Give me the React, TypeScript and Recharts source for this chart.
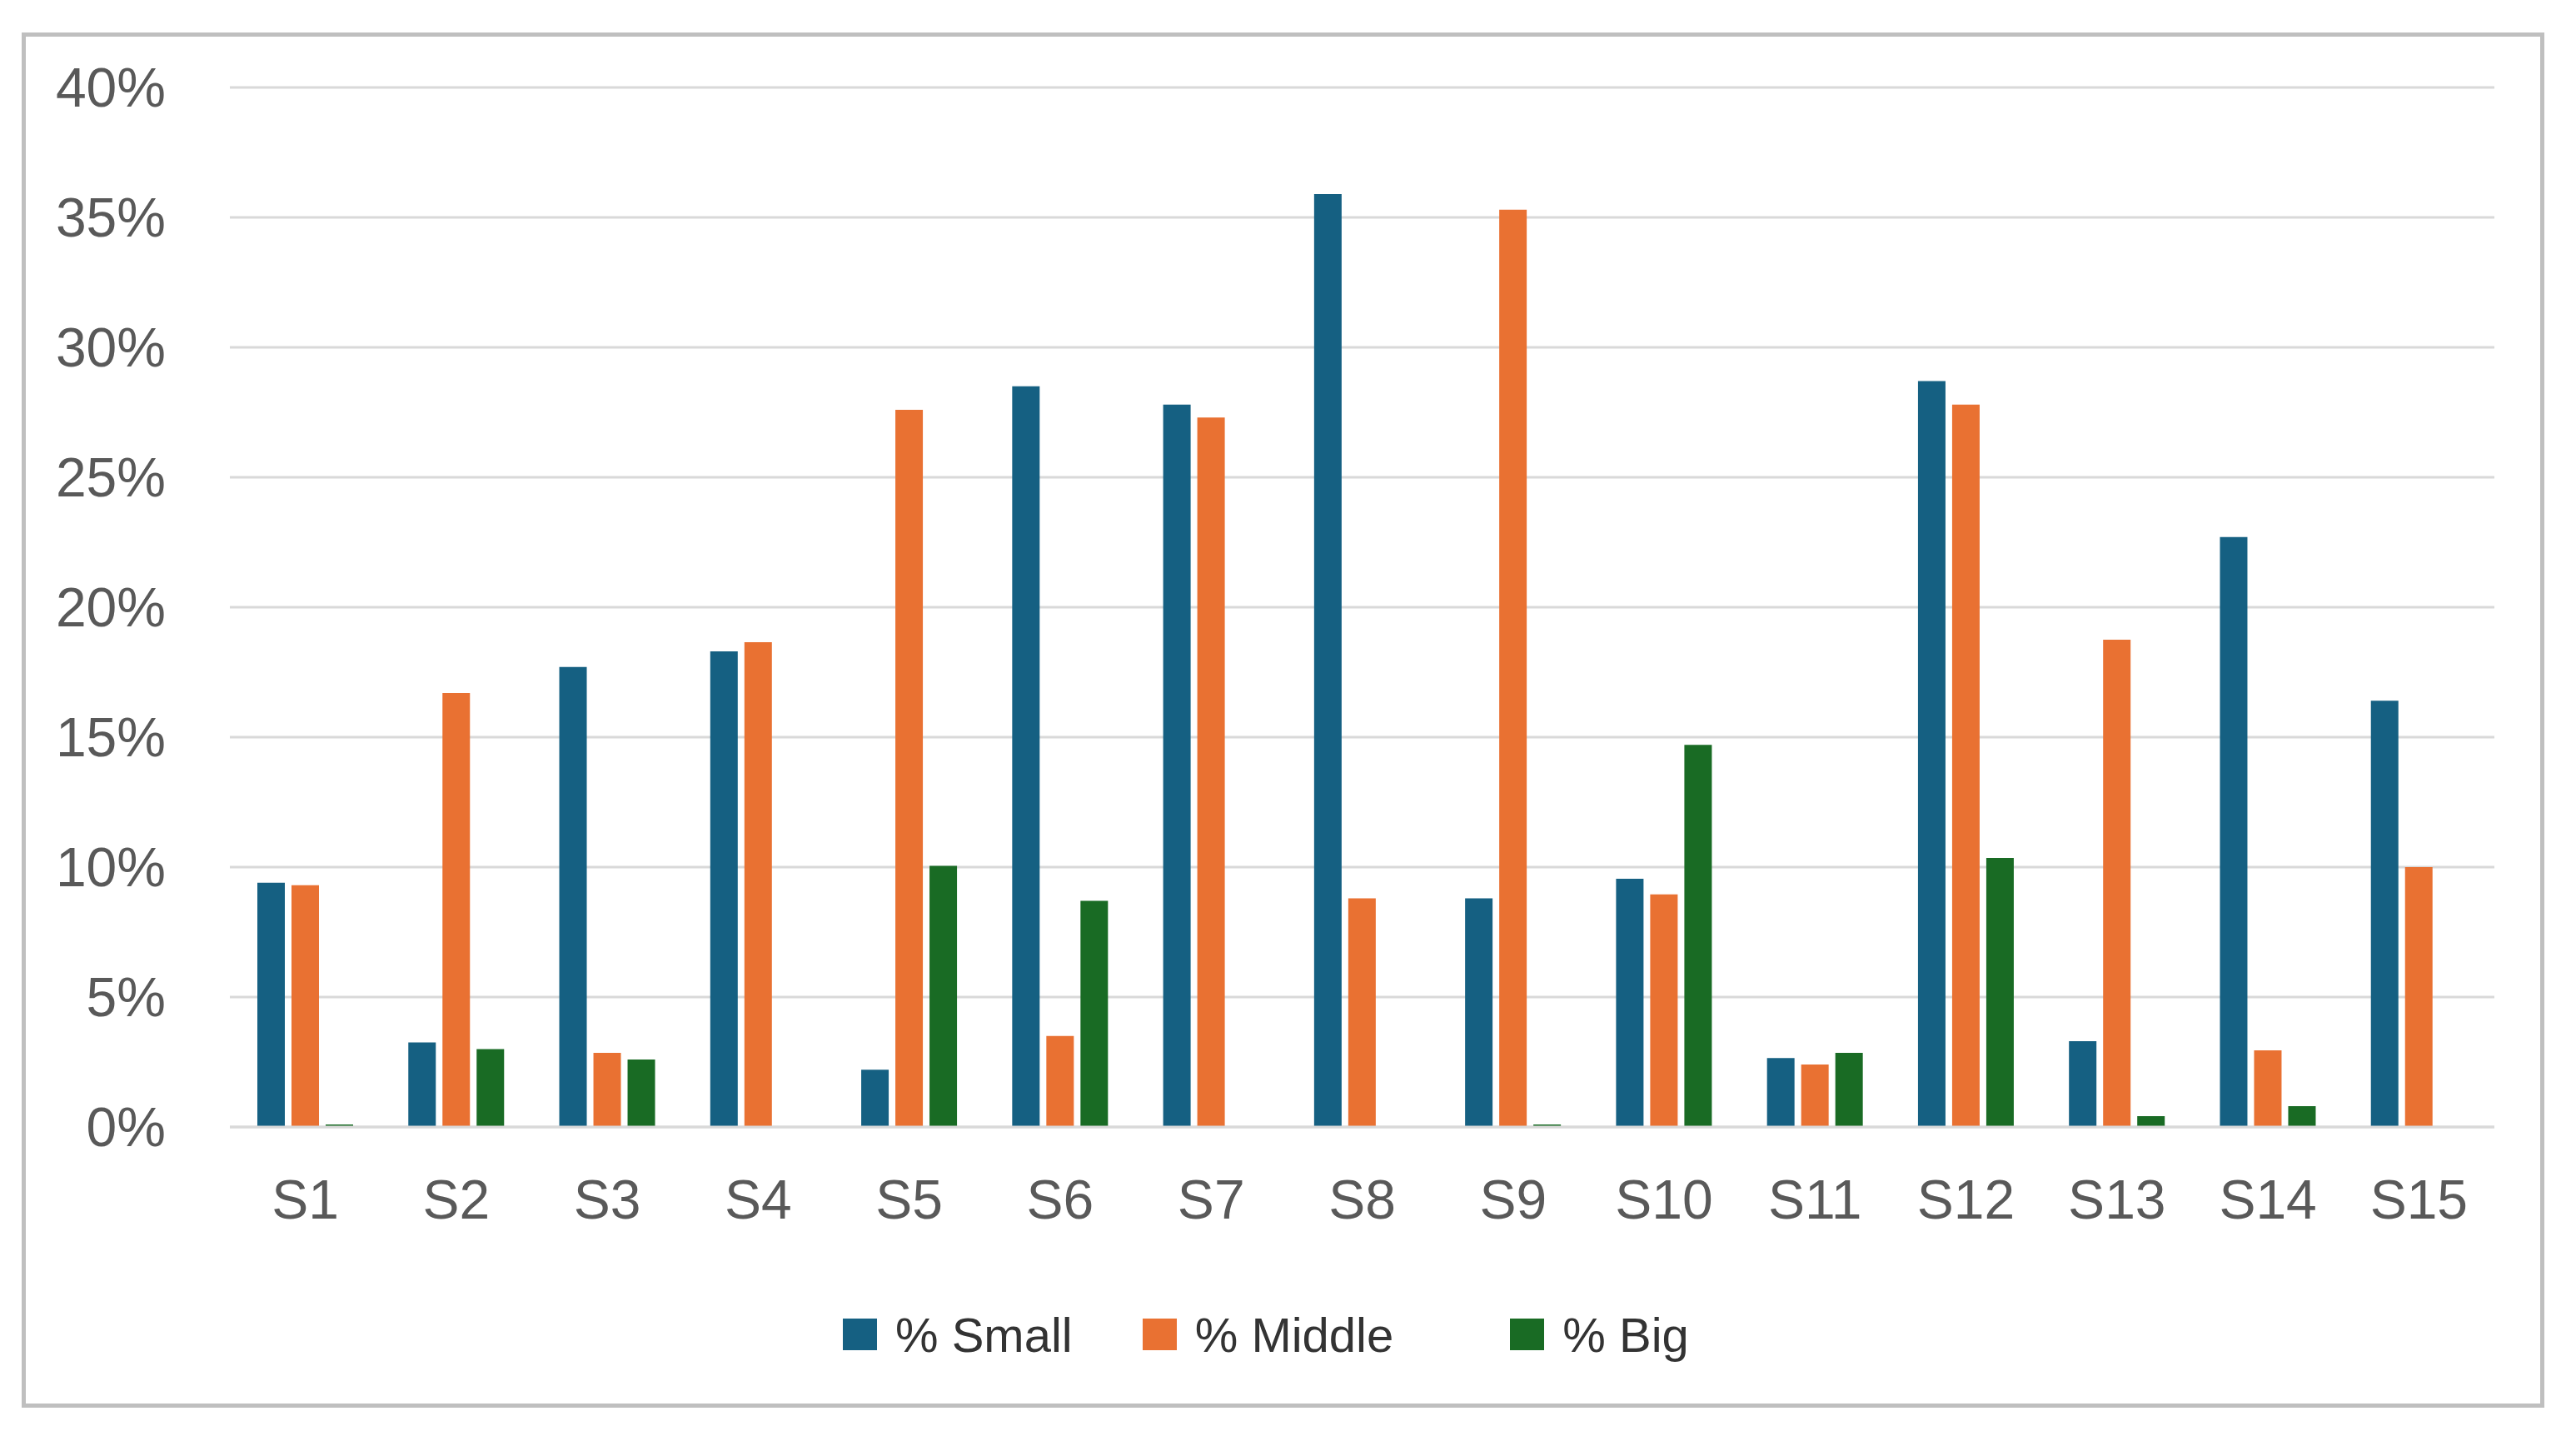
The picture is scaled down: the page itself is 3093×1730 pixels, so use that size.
import { BarChart, Bar, XAxis, YAxis, CartesianGrid } from 'recharts';

const categories = ['S1', 'S2', 'S3', 'S4', 'S5', 'S6', 'S7', 'S8', 'S9', 'S10', 'S11', 'S12', 'S13', 'S14', 'S15'];
const small = [9.4, 3.25, 17.7, 18.3, 2.2, 28.5, 27.8, 35.9, 8.8, 9.55, 2.65, 28.7, 3.3, 22.7, 16.4];
const middle = [9.3, 16.7, 2.85, 18.65, 27.6, 3.5, 27.3, 8.8, 35.3, 8.95, 2.4, 27.8, 18.75, 2.95, 10.0];
const big = [0.1, 3.0, 2.6, 0, 10.05, 8.7, 0, 0, 0.1, 14.7, 2.85, 10.35, 0.42, 0.8, 0];
const yTicks = [0, 5, 10, 15, 20, 25, 30, 35, 40];

const series = [
  { key: 'small', name: '% Small', color: '#156082', gapAfter: 84 },
  { key: 'middle', name: '% Middle', color: '#E97132', gapAfter: 140 },
  { key: 'big', name: '% Big', color: '#196B24', gapAfter: 0 },
];

const data = categories.map((name, i) => ({
  name,
  small: small[i],
  middle: middle[i],
  big: big[i],
}));

const FONT = '"Liberation Sans", Arial, sans-serif';
const GRID = '#D9D9D9';

export default function App() {
  return (
    <div style={{ position: 'absolute', left: 0, top: 0, width: 3093, height: 1730, background: '#fff', fontFamily: FONT }}>
      {/* outer frame */}
      <div
        style={{
          position: 'absolute',
          left: 26,
          top: 39,
          width: 3029,
          height: 1651,
          border: '5px solid #BFBFBF',
          boxSizing: 'border-box',
        }}
      />
      <div style={{ position: 'absolute', left: 0, top: 0 }}>
        <BarChart
          width={3093}
          height={1730}
          data={data}
          margin={{ top: 105, right: 98, bottom: 277, left: 0 }}
          barSize={33}
          barGap={8}
        >
          <CartesianGrid vertical={false} stroke={GRID} strokeWidth={3} />
          <XAxis
            dataKey="name"
            height={100}
            axisLine={{ stroke: GRID, strokeWidth: 3 }}
            tickLine={false}
            tickSize={10}
            tickMargin={53}
            tick={{ fill: '#595959', fontSize: 66, fontFamily: FONT }}
            interval={0}
          />
          <YAxis
            width={276}
            domain={[0, 40]}
            ticks={yTicks}
            axisLine={false}
            tickLine={false}
            tickSize={10}
            tickMargin={67}
            tickFormatter={(v: number) => `${v}%`}
            tick={{ fill: '#595959', fontSize: 66, fontFamily: FONT }}
          />
          {series.map((s) => (
            <Bar key={s.key} dataKey={s.key} name={s.name} fill={s.color} isAnimationActive={false} />
          ))}
        </BarChart>
      </div>
      {/* legend */}
      <div
        style={{
          position: 'absolute',
          left: 1012,
          top: 1572,
          height: 60,
          display: 'flex',
          alignItems: 'center',
          whiteSpace: 'nowrap',
        }}
      >
        {series.map((s) => (
          <div key={s.key} style={{ display: 'flex', alignItems: 'center', marginRight: s.gapAfter }}>
            <div style={{ width: 41, height: 38, background: s.color, marginRight: 22 }} />
            <span style={{ fontSize: 58, color: '#333333', fontFamily: FONT }}>{s.name}</span>
          </div>
        ))}
      </div>
    </div>
  );
}
